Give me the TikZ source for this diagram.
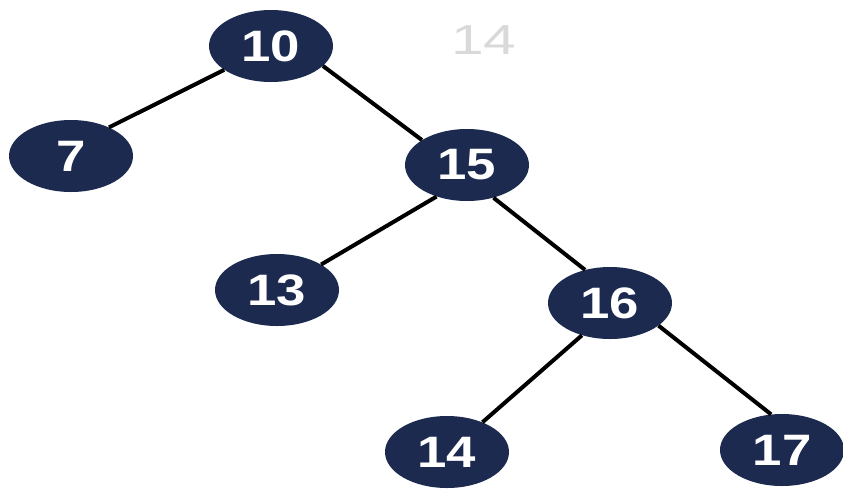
\documentclass[tikz,border=0pt]{standalone}
\usepackage{fontspec}
\setmainfont{Liberation Sans}
\newfontfamily\nodefont[FakeStretch=1.2]{Liberation Sans}
\newfontfamily\ghostfont[FakeStretch=1.4]{Liberation Sans}
\usetikzlibrary{shapes.geometric}
\definecolor{navy}{HTML}{1B2A4E}
\tikzset{
  treenode/.style={ellipse, fill=navy, draw=none, minimum width=124pt, minimum height=72pt,
    inner sep=0pt, text=white, font=\nodefont\bfseries\fontsize{44}{44}\selectfont},
  link/.style={line width=4pt, black},
  ghost/.style={text=black!15, font=\ghostfont\fontsize{42}{42}\selectfont, inner sep=0pt}
}
\begin{document}
\begin{tikzpicture}[x=1pt,y=-1pt]
\useasboundingbox (0,0) rectangle (843,488);
\node[treenode] (n10) at (271,46) {10};
\node[treenode] (n7) at (71,156) {7};
\node[treenode] (n15) at (467,165) {15};
\node[treenode] (n13) at (277,290) {13};
\node[treenode] (n16) at (610,303) {16};
\node[treenode] (n14) at (447,452) {14};
\node[treenode] (n17) at (782,450) {17};
\node[ghost] (g14) at (484,40) {14};
\draw[link] (n10.207) -- (n7.37);
\draw[link] (n10.-21) -- (n15.151);
\draw[link] (n15.226) -- (n13.30);
\draw[link] (n15.-51) -- (n16.127);
\draw[link] (n16.229) -- (n14.40);
\draw[link] (n16.-25) -- (n17.107);
\end{tikzpicture}
\end{document}
